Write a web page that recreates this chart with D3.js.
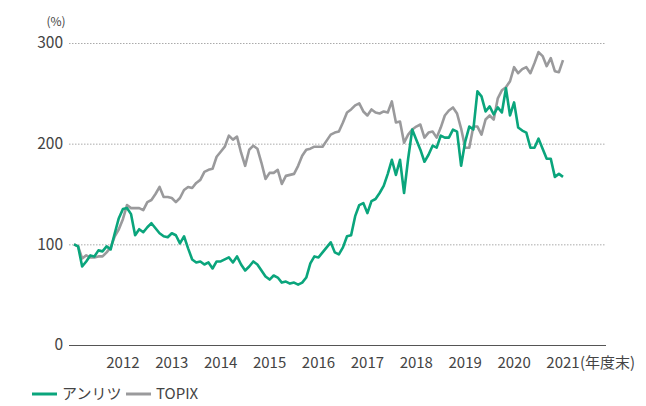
<!DOCTYPE html>
<html lang="ja">

<head>
  <meta charset="UTF-8">
  <title>アンリツ vs TOPIX</title>
  <script src="https://d3js.org/d3.v7.min.js"></script>
  <style>
    body {
      margin: 0;
      background: #fff;
    }

    svg text {
      font-family: "Noto Sans CJK JP", "Noto Sans", sans-serif;
      fill: #444;
    }

    .grid line {
      stroke: #aaa;
      stroke-width: 1;
      stroke-dasharray: 1.5 1.5;
    }

    .line {
      fill: none;
      stroke-width: 2.6;
      stroke-linejoin: round;
    }
  </style>
</head>

<body>
  <svg width="646" height="406"></svg>

  <script>
    // monthly, fiscal year end 2011 = 100
    const anritsu = [
      100, 98, 78, 83, 89, 88, 94, 93, 98, 95, 111, 126,
      135, 136, 130, 109, 115, 112, 117, 121, 116, 111, 108, 107,
      111, 109, 101, 108, 96, 85, 82, 83, 80, 82, 76, 83,
      83, 85, 87, 82, 88, 80, 74, 78, 83, 80, 74, 68,
      65, 69, 67, 62, 63, 61, 62, 60, 62, 67, 81, 88,
      87, 92, 97, 102, 92, 90, 97, 108, 109, 128, 139, 141,
      131, 143, 145, 151, 158, 170, 184, 169, 184, 151, 185, 214,
      204, 194, 182, 189, 198, 196, 208, 206, 206, 214, 212, 178,
      202, 217, 214, 252, 247, 232, 237, 229, 236, 231, 255, 228,
      241, 216, 213, 211, 196, 196, 205, 195, 185, 185, 167, 170,
      167
    ];
    const topix = [
      100, 98, 86, 89, 87, 87, 88, 88, 92, 97, 108, 115,
      125, 139, 136, 136, 136, 134, 142, 144, 150, 157, 147, 147,
      146, 142, 146, 154, 157, 156, 161, 164, 172, 174, 175, 187,
      192, 197, 208, 204, 207, 191, 178, 194, 198, 195, 181, 165,
      171, 171, 174, 160, 168, 169, 170, 178, 188, 194, 195, 197,
      197, 197, 203, 209, 211, 212, 221, 231, 234, 238, 240, 232,
      228, 234, 231, 230, 232, 231, 242, 221, 222, 201, 209, 214,
      217, 219, 206, 211, 212, 206, 216, 228, 233, 236, 230, 215,
      196, 196, 217, 217, 209, 224, 228, 224, 245, 253, 256, 262,
      276, 270, 274, 276, 270, 280, 291, 287, 277, 285, 272, 271,
      283
    ];
    const years = ['2012', '2013', '2014', '2015', '2016', '2017', '2018', '2019', '2020', '2021'];
    const yTicks = [0, 100, 200, 300];

    const series = [
      { name: 'アンリツ', values: anritsu, color: '#0aa57c' },
      { name: 'TOPIX', values: topix, color: '#9a9a9c' }
    ];

    const svg = d3.select('svg');

    // month index -> x, tick every 12 months
    const x = d3.scaleLinear().domain([0, 120]).range([74, 563]);
    const y = d3.scaleLinear().domain([0, 300]).range([345, 43]);
    const left = 69, right = 606;

    // grid lines
    svg.append('g')
      .attr('class', 'grid')
      .selectAll('line')
      .data(yTicks.filter(d => d > 0))
      .enter().append('line')
      .attr('x1', left).attr('x2', right)
      .attr('y1', d => y(d) + 0.5).attr('y2', d => y(d) + 0.5);

    // y labels
    svg.append('g')
      .selectAll('text')
      .data(yTicks)
      .enter().append('text')
      .attr('x', 63)
      .attr('y', d => y(d))
      .attr('dy', '0.35em')
      .attr('text-anchor', 'end')
      .style('font-size', '15.5px')
      .text(d => d);

    svg.append('text')
      .attr('x', 56).attr('y', 22)
      .attr('dy', '0.35em')
      .attr('text-anchor', 'middle')
      .style('font-size', '12px')
      .text('(%)');

    // lines
    const line = d3.line()
      .x((d, i) => x(i))
      .y(d => y(d));

    svg.selectAll('.line')
      .data(series.slice().reverse())
      .enter().append('path')
      .attr('class', 'line')
      .attr('stroke', d => d.color)
      .attr('d', d => line(d.values));

    // x axis
    svg.append('line')
      .attr('x1', left).attr('x2', right)
      .attr('y1', y(0) + 0.5).attr('y2', y(0) + 0.5)
      .attr('stroke', '#555').attr('stroke-width', 1.2);

    svg.append('g')
      .selectAll('text')
      .data(years)
      .enter().append('text')
      .attr('x', (d, i) => x((i + 1) * 12))
      .attr('y', 363)
      .attr('dy', '0.35em')
      .attr('text-anchor', 'middle')
      .style('font-size', '15px')
      .text(d => d);

    svg.append('text')
      .attr('x', 580).attr('y', 363)
      .attr('dy', '0.35em')
      .style('font-size', '15px')
      .text('(年度末)');

    // legend
    const legendX = [32, 126];
    const legend = svg.append('g')
      .selectAll('g')
      .data(series)
      .enter().append('g')
      .attr('transform', (d, i) => `translate(${legendX[i]},394)`);

    legend.append('line')
      .attr('x1', 0).attr('x2', 25)
      .attr('stroke', d => d.color)
      .attr('stroke-width', 3);

    legend.append('text')
      .attr('x', 30)
      .attr('dy', '0.35em')
      .style('font-size', '15px')
      .text(d => d.name);
  </script>
</body>

</html>
